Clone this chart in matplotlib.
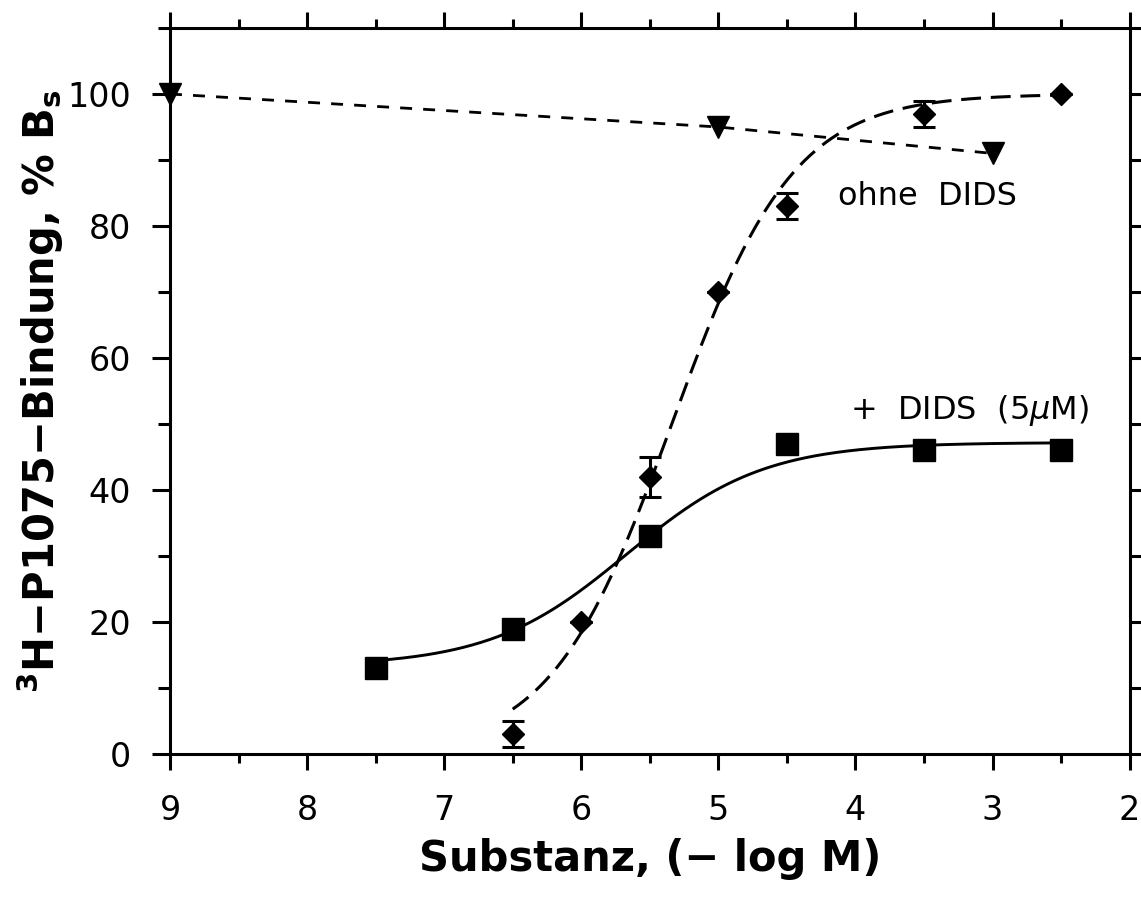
import matplotlib.pyplot as plt
import numpy as np
from matplotlib.ticker import MultipleLocator

# ohne DIDS (diamonds, with error bars)
ohne_x = [6.5, 6.0, 5.5, 5.0, 4.5, 3.5, 2.5]
ohne_y = [3, 20, 42, 70, 83, 97, 100]
ohne_err = [2, 0, 3, 0, 2, 2, 0]

# + DIDS (5 uM) (squares)
dids_x = [7.5, 6.5, 5.5, 4.5, 3.5, 2.5]
dids_y = [13, 19, 33, 47, 46, 46]

# third series (down triangles)
tri_x = [9, 5, 3]
tri_y = [100, 95, 91]

# sigmoid fit parameters: bottom, top, midpoint, slope
ohne_fit = (0.0, 100.0, 5.34, 0.98)
dids_fit = (13.3, 47.2, 5.67, 0.87)


def hill(x, bottom, top, mid, slope):
    return bottom + (top - bottom) / (1 + 10 ** (slope * (x - mid)))


plt.rcParams['font.family'] = ['DejaVu Sans']
plt.rcParams['mathtext.fontset'] = 'dejavusans'

fig = plt.figure(figsize=(11.41, 9.09), dpi=100)
ax = fig.add_axes([0.149, 0.1705, 0.841, 0.7987])

# fitted curves
xs = np.linspace(ohne_x[0], ohne_x[-1], 300)
ax.plot(xs, hill(xs, *ohne_fit), color='black', lw=2.2, dashes=(6.5, 3.2))
xs = np.linspace(dids_x[0], dids_x[-1], 300)
ax.plot(xs, hill(xs, *dids_fit), color='black', lw=2.1)
ax.plot(tri_x, tri_y, color='black', lw=2.0, dashes=(4.3, 4.0))

# data points
ax.errorbar(ohne_x, ohne_y, yerr=ohne_err, fmt='D', color='black', ms=11,
            capsize=8, elinewidth=2.2, capthick=2.2, clip_on=False, zorder=3)
ax.plot(dids_x, dids_y, 's', color='black', ms=16, clip_on=False, zorder=3)
ax.plot(tri_x, tri_y, 'v', color='black', ms=16, clip_on=False, zorder=3)

ax.text(4.13, 84.5, 'ohne  DIDS', fontsize=23, va='center', ha='left')
ax.text(4.04, 52, '+  DIDS  (5$\\mu$M)', fontsize=23, va='center', ha='left')

ax.set_xlim(9, 2)
ax.set_ylim(0, 110)
ax.xaxis.set_major_locator(MultipleLocator(1))
ax.xaxis.set_minor_locator(MultipleLocator(0.5))
ax.yaxis.set_minor_locator(MultipleLocator(10))
ax.set_yticks([0, 20, 40, 60, 80, 100])

for s in ax.spines.values():
    s.set_linewidth(2.2)

ax.tick_params(which='both', direction='out', width=2.2, top=True, right=True,
               labelsize=24)
ax.tick_params(axis='x', which='major', length=11.5, pad=17)
ax.tick_params(axis='x', which='minor', length=6.5)
ax.tick_params(axis='y', which='major', length=13, pad=15)
ax.tick_params(axis='y', which='minor', length=8.5)
ax.tick_params(axis='y', which='both', right=True, labelright=False)

ax.set_xlabel('Substanz, (\u2212 log M)', fontsize=30, fontweight='bold',
              labelpad=8)
ax.set_ylabel('$^{\\mathbf{3}}$H\u2212P1075\u2212Bindung, % B$_{\\mathbf{s}}$',
              fontsize=30, fontweight='bold', labelpad=1)

fig.savefig('out.png', dpi=100)
